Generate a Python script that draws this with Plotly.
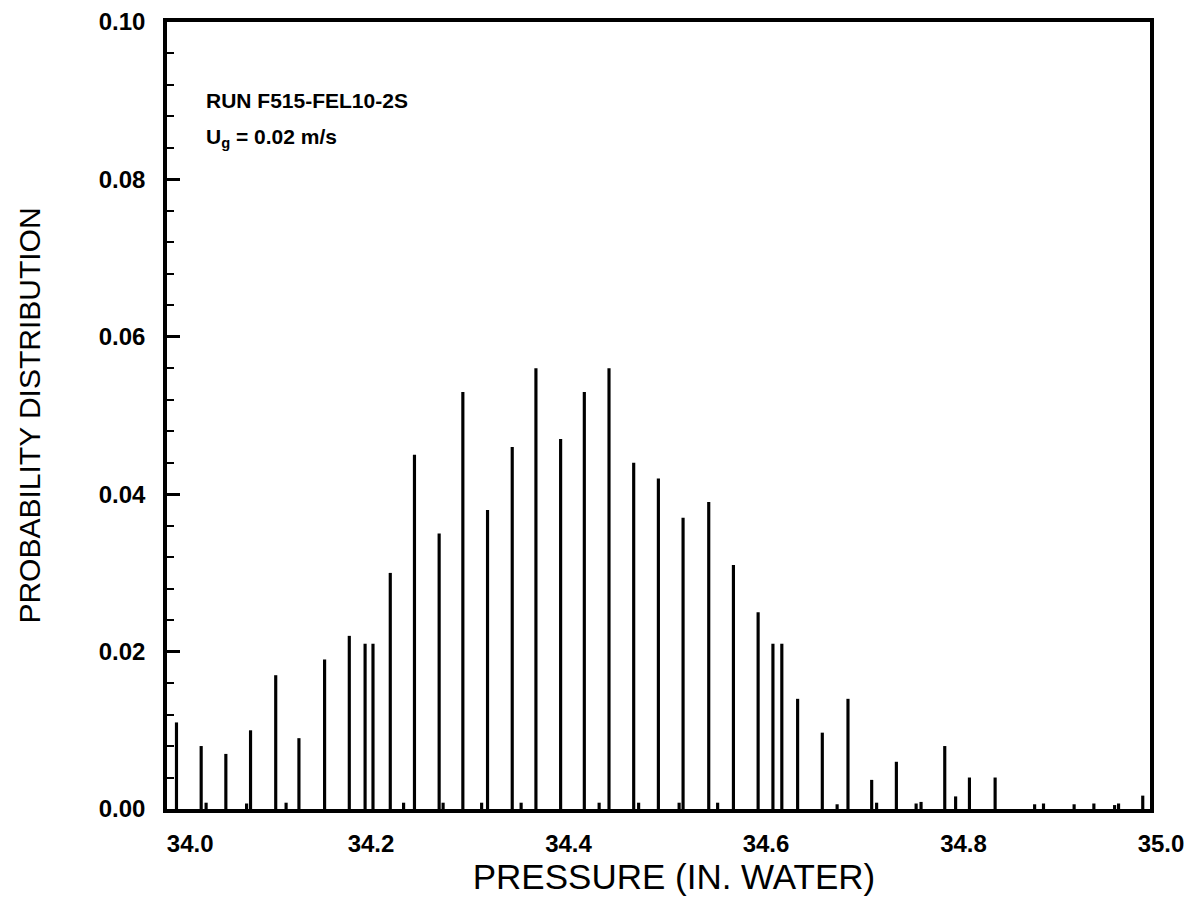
import plotly.graph_objects as go

# ---- data ----
pressure = [34.003, 34.028, 34.033, 34.053, 34.074, 34.078, 34.1035, 34.114, 34.127, 34.153,
            34.178, 34.194, 34.202, 34.2195, 34.233, 34.244, 34.269, 34.273, 34.293, 34.312,
            34.318, 34.343, 34.352, 34.367, 34.392, 34.416, 34.431, 34.441, 34.466, 34.471,
            34.491, 34.512, 34.516, 34.542, 34.551, 34.567, 34.592, 34.607, 34.616, 34.632,
            34.657, 34.672, 34.683, 34.707, 34.712, 34.732, 34.752, 34.757, 34.781, 34.792,
            34.806, 34.832, 34.872, 34.881, 34.912, 34.932, 34.953, 34.957, 34.9815]
probability = [0.011, 0.008, 0.0008, 0.007, 0.0007, 0.010, 0.017, 0.0008, 0.009, 0.019,
               0.022, 0.021, 0.021, 0.030, 0.0008, 0.045, 0.035, 0.0008, 0.053, 0.0008,
               0.038, 0.046, 0.0008, 0.056, 0.047, 0.053, 0.0008, 0.056, 0.044, 0.0008,
               0.042, 0.0008, 0.037, 0.039, 0.0008, 0.031, 0.025, 0.021, 0.021, 0.014,
               0.0097, 0.0006, 0.014, 0.0037, 0.0008, 0.006, 0.0007, 0.0009, 0.008, 0.0016,
               0.004, 0.004, 0.0006, 0.0007, 0.0006, 0.0007, 0.0005, 0.0007, 0.0017]

x_tick_vals = [34.0, 34.2, 34.4, 34.6, 34.8, 35.0]
x_tick_text = ["\u00a0\u00a0\u00a0\u00a0\u00a034.0", "34.2", "34.4", "34.6", "34.8", "35.0"]
y_tick_vals = [0.00, 0.02, 0.04, 0.06, 0.08, 0.10]
y_tick_text = ["0.00", "0.02", "0.04", "0.06", "0.08", "0.10"]
y_minor_step = 0.004

run_label = "RUN F515-FEL10-2S"
ug_label = "U<sub>g</sub> = 0.02 m/s"
x_title = "PRESSURE (IN. WATER)"
y_title = "PROBABILITY DISTRIBUTION"

# ---- layout geometry (page body offset compensated) ----
BODY = 6
W, H = 1193 - 8, 898 - 8
left_px, top_px, bottom_px, frame_right_px = 165, 20, 807, 1148
ml = left_px - BODY
mt = top_px - BODY
mb = (BODY + H) - bottom_px
mr = 12
plot_w = W - ml - mr
px_per_unit = 987.5
x_at_left = 33.9934
x_frame_right = x_at_left + (frame_right_px - left_px) / px_per_unit
x_paper_right = x_at_left + plot_w / px_per_unit
dom_right = (frame_right_px - left_px) / plot_w

FONT = "Liberation Sans"

fig = go.Figure()
fig.add_trace(go.Bar(x=pressure, y=probability, width=0.0032,
                     marker=dict(color="black", line=dict(width=0)),
                     showlegend=False))
# carrier trace for the labelled pressure axis
fig.add_trace(go.Scatter(x=x_tick_vals, y=[0] * len(x_tick_vals), xaxis="x2", yaxis="y",
                         mode="markers", marker=dict(opacity=0, size=1), showlegend=False,
                         hoverinfo="skip"))

fig.update_layout(
    width=W, height=H,
    margin=dict(l=ml, r=mr, t=mt, b=mb, autoexpand=False),
    paper_bgcolor="white", plot_bgcolor="rgba(0,0,0,0)",
    font=dict(family=FONT, color="black"),
    xaxis=dict(domain=[0, dom_right], range=[x_at_left, x_frame_right],
               showline=True, linewidth=3.5, linecolor="black", mirror=True,
               ticks="", showticklabels=False, showgrid=False, zeroline=False),
    xaxis2=dict(domain=[0, 1], range=[x_at_left, x_paper_right], anchor="y",
                showline=False, showgrid=False, zeroline=False, ticks="",
                tickmode="array", tickvals=x_tick_vals, ticktext=x_tick_text,
                tickfont=dict(size=24, family=FONT, weight="bold"),
                ticklabelstandoff=18,
                title=dict(text=x_title, font=dict(size=35, family=FONT), standoff=2)),
    yaxis=dict(range=[0, 0.1], tickmode="array", tickvals=y_tick_vals, ticktext=y_tick_text,
               ticks="inside", ticklen=13, tickwidth=2.5, tickcolor="black",
               minor=dict(ticks="inside", ticklen=7, tickwidth=2, dtick=y_minor_step,
                          tick0=0, tickcolor="black", showgrid=False),
               showline=True, linewidth=3.5, linecolor="black", mirror=True,
               showgrid=False, zeroline=False,
               tickfont=dict(size=24, family=FONT, weight="bold"),
               ticklabelstandoff=13,
               title=dict(text=y_title, font=dict(size=30, family=FONT), standoff=50)),
    annotations=[
        dict(text="<b>" + run_label + "</b>", xref="paper", yref="paper",
             x=0.0376 * dom_right, y=0.900,
             xanchor="left", yanchor="middle", showarrow=False,
             font=dict(size=21, family=FONT)),
        dict(text="<b>" + ug_label + "</b>", xref="paper", yref="paper",
             x=0.0376 * dom_right, y=0.852,
             xanchor="left", yanchor="middle", showarrow=False,
             font=dict(size=21, family=FONT)),
    ],
)

fig.write_html("out.html")
